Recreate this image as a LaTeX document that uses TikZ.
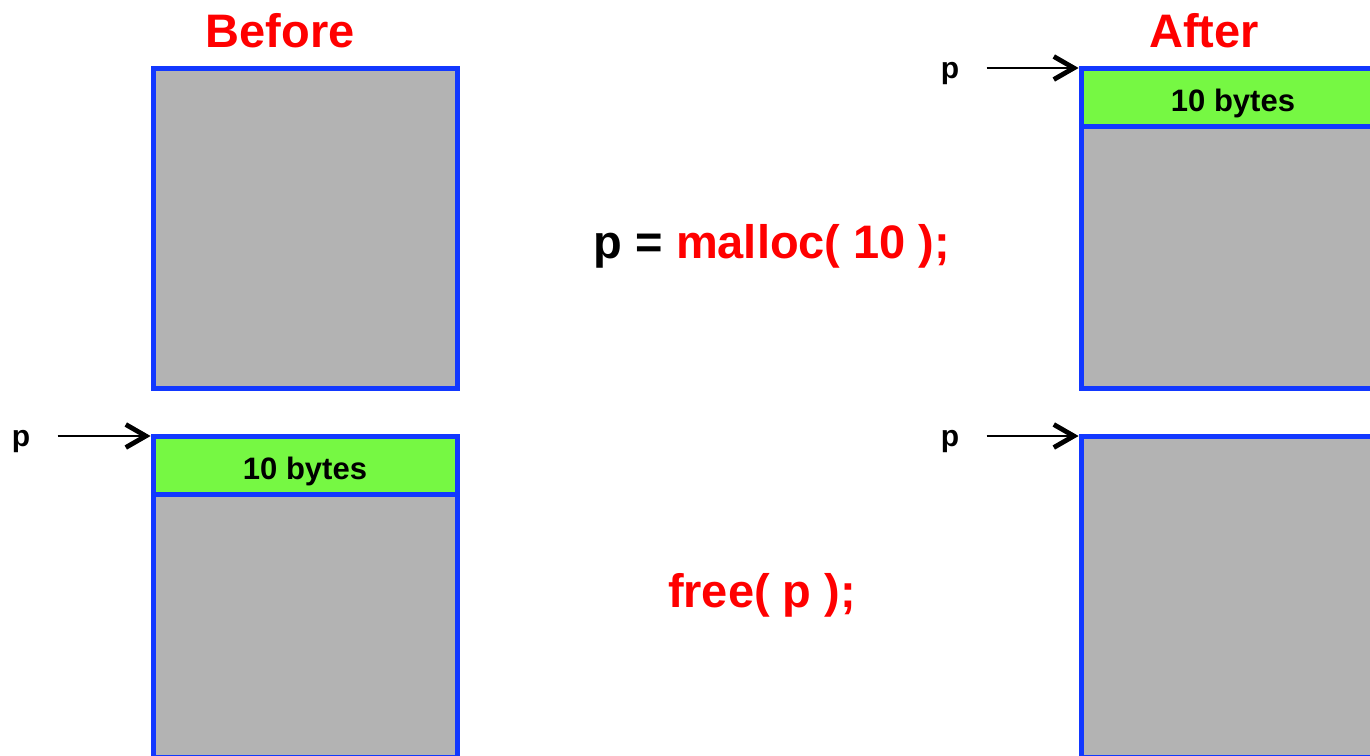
\documentclass[tikz,border=0pt]{standalone}
\usepackage{fontspec}
\setmainfont{Liberation Sans}
\usepackage{xcolor}
\usepackage{tikz}
\usetikzlibrary{positioning,arrows.meta}
\definecolor{heapblue}{HTML}{1238FF}
\definecolor{heapgray}{HTML}{B3B3B3}
\definecolor{heapgreen}{HTML}{76F843}
\definecolor{codered}{HTML}{FF0000}

\begin{document}
\begin{tikzpicture}[x=0.5pt, y=-0.5pt,
  heap/.style={draw=heapblue, fill=heapgray, line width=2.5pt, minimum width=152pt, inner sep=0pt, outer sep=0pt},
  block/.style={draw=heapblue, fill=heapgreen, line width=2.5pt, minimum width=152pt, minimum height=29pt, inner sep=0pt, outer sep=0pt, text height=14pt, text depth=0pt, font=\fontsize{15.5}{18}\selectfont\bfseries},
  title/.style={font=\fontsize{23.5}{28}\selectfont\bfseries\color{codered}, anchor=base, inner sep=0pt},
  code/.style={font=\fontsize{23.5}{28}\selectfont\bfseries, anchor=base, inner sep=0pt},
  ptrname/.style={font=\fontsize{15}{18}\selectfont\bfseries, anchor=base, inner sep=0pt},
  ptr/.style={-{Straight Barb[length=10pt, width=11.5pt, line width=2.4pt]}, line width=0.8pt, shorten <=13.5pt, shorten >=1.2pt},
]
\clip (0,0) rectangle (1370,755);
% Before column
\node[title] (before) at (280,47) {Before};
\node[heap, minimum height=160pt] (heapA) at (305,228) {};
\node[heap, minimum height=160.5pt] (heapB) at (305,596.5) {};
\node[block] (blockB) at (305,465) {10 bytes};
\node[ptrname] (pB) at (21,446) {p};
\draw[ptr] (pB.east |- heapB.north west) -- (heapB.north west);

% Calls in the middle
\node[code] (mallocCall) at (772,258) {p = \textcolor{codered}{malloc( 10 );}};
\node[code, text=codered] (freeCall) at (762,607) {free( p );};

% After column
\node[title] (after) at (1204,47) {After};
\node[heap, minimum height=160pt] (heapC) at (1233,228) {};
\node[block] (blockC) at (1233,97) {10 bytes};
\node[ptrname] (pC) at (950,78) {p};
\draw[ptr] (pC.east |- heapC.north west) -- (heapC.north west);
\node[heap, minimum height=160.5pt] (heapD) at (1233,596.5) {};
\node[ptrname] (pD) at (950,446) {p};
\draw[ptr] (pD.east |- heapD.north west) -- (heapD.north west);
\end{tikzpicture}
\end{document}
